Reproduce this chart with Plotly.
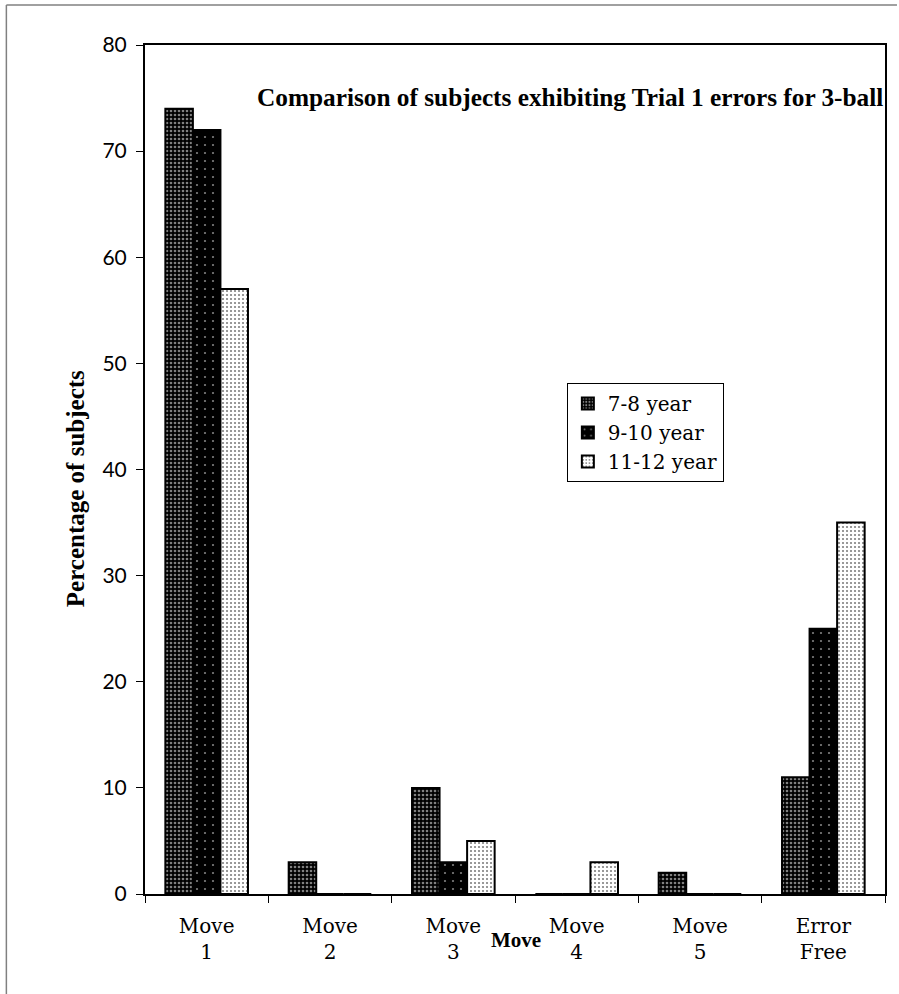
import plotly.graph_objects as go

categories = ["Move<br>1", "Move<br>2", "Move<br>3", "Move<br>4", "Move<br>5", "Error<br>Free"]
series_names = ["7-8 year", "9-10 year", "11-12 year"]
age_7_8 = [74, 3, 10, 0, 2, 11]
age_9_10 = [72, 0, 3, 0, 0, 25]
age_11_12 = [57, 0, 5, 3, 0, 35]
y_ticks = [0, 10, 20, 30, 40, 50, 60, 70, 80]

W, H = 899, 994
L, R, T, B = 145, 12, 45, 100
pw, ph = W - L - R, H - T - B


def px_x(p):
    return (p - L) / pw


def px_y(p):
    return (H - B - p) / ph


patterns = [
    dict(shape=".", bgcolor="#000000", fgcolor="#ffffff", size=4, solidity=0.35),
    dict(shape=".", bgcolor="#000000", fgcolor="#ffffff", size=8, solidity=0.06),
    dict(shape=".", bgcolor="#ffffff", fgcolor="#000000", size=4, solidity=0.22),
]

fig = go.Figure()
for name, vals, pat in zip(series_names, [age_7_8, age_9_10, age_11_12], patterns):
    fig.add_trace(go.Bar(
        x=categories, y=vals, name=name,
        marker=dict(color=pat["bgcolor"], pattern=pat, line=dict(color="#000000", width=2)),
    ))

fig.update_layout(
    width=W, height=H,
    margin=dict(l=L, r=R, t=T, b=B),
    paper_bgcolor="white", plot_bgcolor="white",
    barmode="group", bargap=0.33, bargroupgap=0,
    showlegend=True,
    legend=dict(
        x=px_x(568), y=px_y(383), xanchor="left", yanchor="top",
        bgcolor="white", bordercolor="#000000", borderwidth=1,
        font=dict(family="DejaVu Serif", size=20, color="#000000"),
    ),
    xaxis=dict(
        showline=True, linecolor="#000000", linewidth=2, mirror=True,
        ticks="outside", ticklen=7, tickwidth=1, tickcolor="#000000",
        tickson="boundaries", showgrid=False,
        tickfont=dict(family="DejaVu Serif", size=20, color="#000000"),
        ticklabelstandoff=13,
    ),
    yaxis=dict(
        range=[0, 80], tickvals=y_ticks,
        showline=True, linecolor="#000000", linewidth=2, mirror=True,
        ticks="outside", ticklen=7, tickwidth=1, tickcolor="#000000",
        showgrid=False, zeroline=False,
        tickfont=dict(family="Lato", size=21, color="#000000"),
        ticklabelstandoff=5,
    ),
    annotations=[
        dict(text="<b>Comparison of subjects exhibiting Trial 1 errors for 3-ball</b>",
             x=px_x(255), y=px_y(97), xref="paper", yref="paper",
             xanchor="left", yanchor="middle", showarrow=False,
             font=dict(family="Liberation Serif", size=25.3, color="#000000")),
        dict(text="<b>Move</b>",
             x=px_x(517), y=px_y(940), xref="paper", yref="paper",
             xanchor="center", yanchor="middle", showarrow=False,
             font=dict(family="Liberation Serif", size=21, color="#000000")),
        dict(text="<b>Percentage of subjects</b>", textangle=-90,
             x=px_x(76), y=px_y(489), xref="paper", yref="paper",
             xanchor="center", yanchor="middle", showarrow=False,
             font=dict(family="Liberation Serif", size=25, color="#000000")),
    ],
    shapes=[
        dict(type="line", xref="paper", yref="paper",
             x0=px_x(6), x1=px_x(6), y0=px_y(5), y1=px_y(994),
             line=dict(color="#808080", width=1.5)),
        dict(type="line", xref="paper", yref="paper",
             x0=px_x(6), x1=px_x(899), y0=px_y(5), y1=px_y(5),
             line=dict(color="#808080", width=1.5)),
    ],
)

fig.write_html("out.html", config={"displayModeBar": False},
               post_script="document.body.style.margin='0';")
